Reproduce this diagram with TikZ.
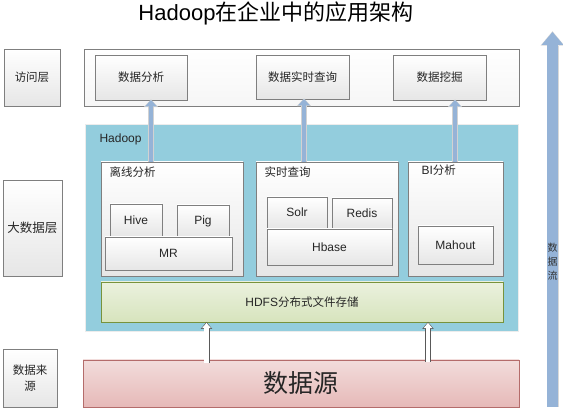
\documentclass[tikz,border=0pt]{standalone}
\usepackage{fontspec}
\setmainfont{Liberation Sans}
\newfontfamily\cjk{Noto Sans CJK SC}
\usetikzlibrary{arrows.meta,calc}
\definecolor{bgray}{HTML}{7F7F7F}
\definecolor{boxbot}{HTML}{E6E6E6}
\definecolor{hadoopblue}{HTML}{93CDDD}
\definecolor{hdfstop}{HTML}{EBF1DE}
\definecolor{hdfsbot}{HTML}{D7E4BD}
\definecolor{hdfsline}{HTML}{77933C}
\definecolor{srctop}{HTML}{F2DCDB}
\definecolor{srcbot}{HTML}{E6B9B8}
\definecolor{srcline}{HTML}{B46C6B}
\definecolor{arrblue}{HTML}{95B3D7}
\begin{document}
\begin{tikzpicture}[x=1pt,y=-1pt,
  rect/.style n args={4}{at={(#1,#2)},anchor=north west,minimum width={(#3-#1)*1pt},minimum height={(#4-#2)*1pt},inner sep=0pt,outer sep=0pt},
  gbox/.style={draw=bgray,line width=0.8pt,top color=white,bottom color=boxbot},
  zh/.style={font=\cjk\fontsize{11.5}{16}\selectfont,text=black!85},
  en/.style={font=\fontsize{12}{14}\selectfont,text=black!85},
  barr/.style={draw=arrblue,line width=4.6pt,-{Triangle[width=12pt,length=6.5pt,line width=0pt]},
    preaction={draw=gray!35,line width=6.4pt,-{Triangle[width=14.5pt,length=7.8pt,line width=0pt]},shorten >=-0.6pt}},
  bigarr/.style={draw=arrblue,line width=10.5pt,-{Triangle[width=22pt,length=13pt,line width=0pt]},
    preaction={draw=gray!30,line width=12pt,-{Triangle[width=24pt,length=14.5pt,line width=0pt]},shorten >=-0.8pt}},
  warr/.style={draw=white,line width=4.4pt,-{Triangle[width=9pt,length=5.3pt,line width=0pt]},shorten >=0.9pt,
    preaction={draw=gray!70!black,line width=6pt,-{Triangle[width=11.6pt,length=7pt,line width=0pt]},shorten >=0pt}}
]
\useasboundingbox (0,0) rectangle (563,414);

% title
\node[anchor=base,font=\fontsize{22}{26}\selectfont] (title) at (276,20.5) {Hadoop{\cjk 在企业中的应用架构}};

% access layer
\node[gbox,rect={4}{49}{60}{106},zh] (acc) {访问层};
\node[gbox,rect={84}{49}{519}{106},bottom color=gray!7] (topbox) {};
\node[gbox,rect={95}{55}{187}{100},zh] (ana) {数据分析};
\node[gbox,rect={256}{55}{349}{99},zh] (rtq) {数据实时查询};
\node[gbox,rect={393}{55}{486}{100},zh] (mine) {数据挖掘};

% big data layer
\node[gbox,rect={3}{180}{62}{276},zh,font=\cjk\fontsize{12.5}{16}\selectfont] (bigl) {大数据层};
\node[rect={85}{125}{518}{332},fill=hadoopblue,draw=gray!15,line width=1pt] (hadoop) {};
\node[en,anchor=west] (hlab) at (96,139) {Hadoop};

\node[gbox,rect={101}{162}{243}{276}] (off) {};
\node[zh,anchor=west] (offl) at (106,172) {离线分析};
\node[gbox,rect={110}{204}{162}{236},en] (hive) {Hive};
\node[gbox,rect={177}{205}{229}{237},en] (pig) {Pig};
\node[gbox,rect={105}{237}{232}{270},en] (mr) {MR};

\node[gbox,rect={256}{162}{398}{276}] (rt) {};
\node[zh,anchor=west] (rtl) at (261,172) {实时查询};
\node[gbox,rect={267}{197}{327}{228},en] (solr) {Solr};
\node[gbox,rect={332}{198}{392}{228},en] (redis) {Redis};
\node[gbox,rect={267}{229}{392}{265},en] (hbase) {Hbase};

\node[gbox,rect={408}{162}{503}{276}] (bi) {};
\node[en,anchor=west] (bil) at (418,170) {BI{\cjk\fontsize{11.5}{14}\selectfont 分析}};
\node[gbox,rect={418}{226}{493}{264},en] (mahout) {Mahout};

\node[rect={101}{282}{503}{322},draw=hdfsline,line width=0.8pt,top color=hdfstop,bottom color=hdfsbot,en] (hdfs) {HDFS{\cjk\fontsize{11.5}{14}\selectfont 分布式文件存储}};

% source layer
\node[gbox,rect={3}{349}{57}{407},zh,align=center] (srcl) {数据来\\源};
\node[rect={83}{360}{519}{407},draw=srcline,line width=0.8pt,top color=srctop,bottom color=srcbot,font=\cjk\fontsize{25}{30}\selectfont,text=black!85] (src) {数据源};

% arrows
\coordinate (xa) at (151,0);
\coordinate (xb) at (304,0);
\coordinate (xc) at (455,0);
\coordinate (xd) at (206.5,0);
\coordinate (xe) at (428,0);
\draw[barr] (off.north -| xa) -- (ana.south -| xa);
\draw[barr] (rt.north -| xb) -- (rtq.south -| xb);
\draw[barr] (bi.north -| xc) -- (mine.south -| xc);
\draw[warr] ($(src.north -| xd)+(0,3)$) -- (hdfs.south -| xd);
\draw[warr] ($(src.north -| xe)+(0,2)$) -- (hdfs.south -| xe);

\coordinate (bb) at (552.5,407);
\coordinate (bt) at (552.5,32);
\draw[bigarr] (bb) -- (bt);
\node[font=\cjk\fontsize{10}{14}\selectfont,align=center,text=black!80] (flow) at (552.5,262) {数\\据\\流};
\end{tikzpicture}
\end{document}
